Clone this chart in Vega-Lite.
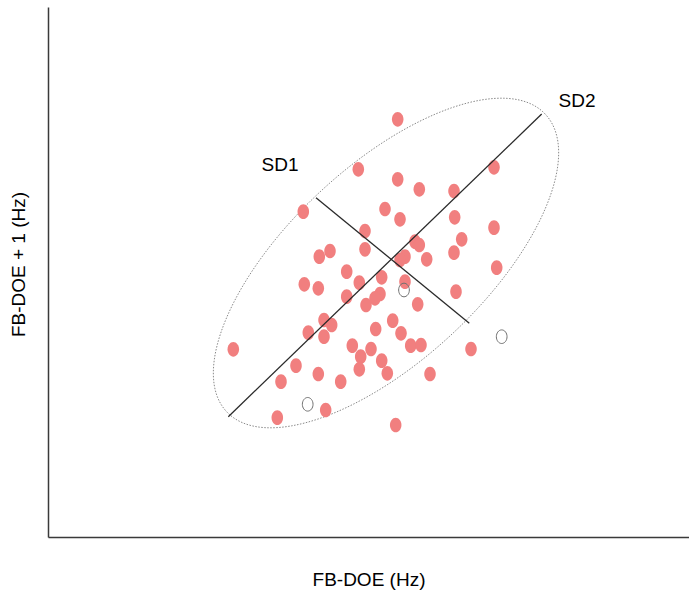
{
  "$schema": "https://vega.github.io/schema/vega-lite/v6.json",
  "width": 641,
  "height": 530,
  "autosize": {"type": "none"},
  "padding": {"left": 48, "top": 7, "right": 0, "bottom": 57},
  "background": "white",
  "config": {
    "view": {"stroke": null},
    "font": "Liberation Sans",
    "axis": {"grid": false, "ticks": false, "labels": false, "domainColor": "#3a3a3a", "domainWidth": 1.5, "titleFont": "Liberation Sans", "titleFontSize": 19, "titleFontWeight": "normal", "titleColor": "#000"}
  },
  "datasets": {
    "filled": [
      {"x": 349.7, "y": 417.7}, {"x": 310.3, "y": 367.7}, {"x": 349.7, "y": 357.7}, {"x": 371.3, "y": 347.7},
      {"x": 406, "y": 346}, {"x": 446, "y": 369.7}, {"x": 255.3, "y": 325.3}, {"x": 337, "y": 328},
      {"x": 352, "y": 317.7}, {"x": 406.7, "y": 319.7}, {"x": 446, "y": 309.3}, {"x": 317, "y": 306},
      {"x": 413.7, "y": 297.7}, {"x": 367, "y": 295.3}, {"x": 371.3, "y": 292}, {"x": 282, "y": 286},
      {"x": 271.3, "y": 280.3}, {"x": 317, "y": 287.7}, {"x": 406, "y": 284.3}, {"x": 378.7, "y": 277.7},
      {"x": 357, "y": 280.3}, {"x": 352, "y": 277}, {"x": 448.7, "y": 269.3}, {"x": 298.7, "y": 265.3},
      {"x": 333.7, "y": 259.7}, {"x": 256.3, "y": 252.7}, {"x": 270.3, "y": 248.7}, {"x": 311.3, "y": 254.3},
      {"x": 357, "y": 255.3}, {"x": 298.7, "y": 240.3}, {"x": 332, "y": 243}, {"x": 327, "y": 238.7},
      {"x": 318, "y": 232}, {"x": 369.7, "y": 232.7}, {"x": 408, "y": 245.3}, {"x": 276, "y": 217},
      {"x": 283.7, "y": 212}, {"x": 344.7, "y": 216.3}, {"x": 260.3, "y": 204.3}, {"x": 276, "y": 200.3},
      {"x": 327.7, "y": 208}, {"x": 353, "y": 203.7}, {"x": 185.3, "y": 187.7}, {"x": 304.3, "y": 191.3},
      {"x": 323, "y": 188}, {"x": 362.7, "y": 191.3}, {"x": 373, "y": 192}, {"x": 423, "y": 188},
      {"x": 312.7, "y": 180.3}, {"x": 333.7, "y": 176.3}, {"x": 248, "y": 171.3}, {"x": 270.3, "y": 163},
      {"x": 311.3, "y": 167.7}, {"x": 339.3, "y": 163.7}, {"x": 382, "y": 163}, {"x": 233, "y": 155.3},
      {"x": 292.7, "y": 155.3}, {"x": 277.7, "y": 127}, {"x": 229.3, "y": 119.3}, {"x": 347.7, "y": 112}
    ],
    "hollow": [
      {"x": 356, "y": 247}, {"x": 453.7, "y": 200.3}, {"x": 259.7, "y": 132.7}
    ],
    "centre": [{"x": 338, "y": 274}],
    "axes": [
      {"x": 180.3, "y": 120.3, "x2": 493.7, "y2": 423},
      {"x": 268, "y": 339.3, "x2": 421.3, "y2": 213.7}
    ],
    "labels": [
      {"x": 232, "y": 372, "label": "SD1"},
      {"x": 529, "y": 436, "label": "SD2"}
    ]
  },
  "encoding": {
    "x": {"field": "x", "type": "quantitative", "scale": {"domain": [0, 641], "nice": false, "zero": false}, "axis": {"title": "FB-DOE (Hz)", "titlePadding": 33}},
    "y": {"field": "y", "type": "quantitative", "scale": {"domain": [0, 530], "nice": false, "zero": false}, "axis": {"title": "FB-DOE + 1 (Hz)", "titlePadding": 20, "titleY": 257}}
  },
  "layer": [
    {
      "data": {"name": "centre"},
      "mark": {"type": "point", "filled": false, "size": 40000, "stroke": "#8a8a8a", "strokeWidth": 1, "strokeDash": [1.5, 1.5], "opacity": 1,
        "shape": "M 1.594 -1.487 C 1.229 -1.879 0.219 -1.531 -0.662 -0.709 C -1.542 0.112 -1.960 1.095 -1.594 1.487 C -1.229 1.879 -0.219 1.531 0.662 0.709 C 1.542 -0.112 1.960 -1.095 1.594 -1.487 Z"}
    },
    {
      "data": {"name": "filled"},
      "mark": {"type": "point", "filled": true, "color": "#F17F7F", "opacity": 1, "size": 215, "strokeWidth": 0,
        "shape": "M 0 -1 C 0.434 -1 0.786 -0.552 0.786 0 C 0.786 0.552 0.434 1 0 1 C -0.434 1 -0.786 0.552 -0.786 0 C -0.786 -0.552 -0.434 -1 0 -1 Z"}
    },
    {
      "data": {"name": "hollow"},
      "mark": {"type": "point", "filled": false, "stroke": "#707070", "strokeWidth": 1, "opacity": 1, "size": 185,
        "shape": "M 0 -1 C 0.434 -1 0.786 -0.552 0.786 0 C 0.786 0.552 0.434 1 0 1 C -0.434 1 -0.786 0.552 -0.786 0 C -0.786 -0.552 -0.434 -1 0 -1 Z"}
    },
    {
      "data": {"name": "axes"},
      "mark": {"type": "rule", "color": "#2a2a2a", "strokeWidth": 1.3},
      "encoding": {"x2": {"field": "x2"}, "y2": {"field": "y2"}}
    },
    {
      "data": {"name": "labels"},
      "mark": {"type": "text", "font": "Liberation Sans", "fontSize": 19, "color": "#000", "align": "center", "baseline": "middle"},
      "encoding": {"text": {"field": "label"}}
    }
  ]
}
